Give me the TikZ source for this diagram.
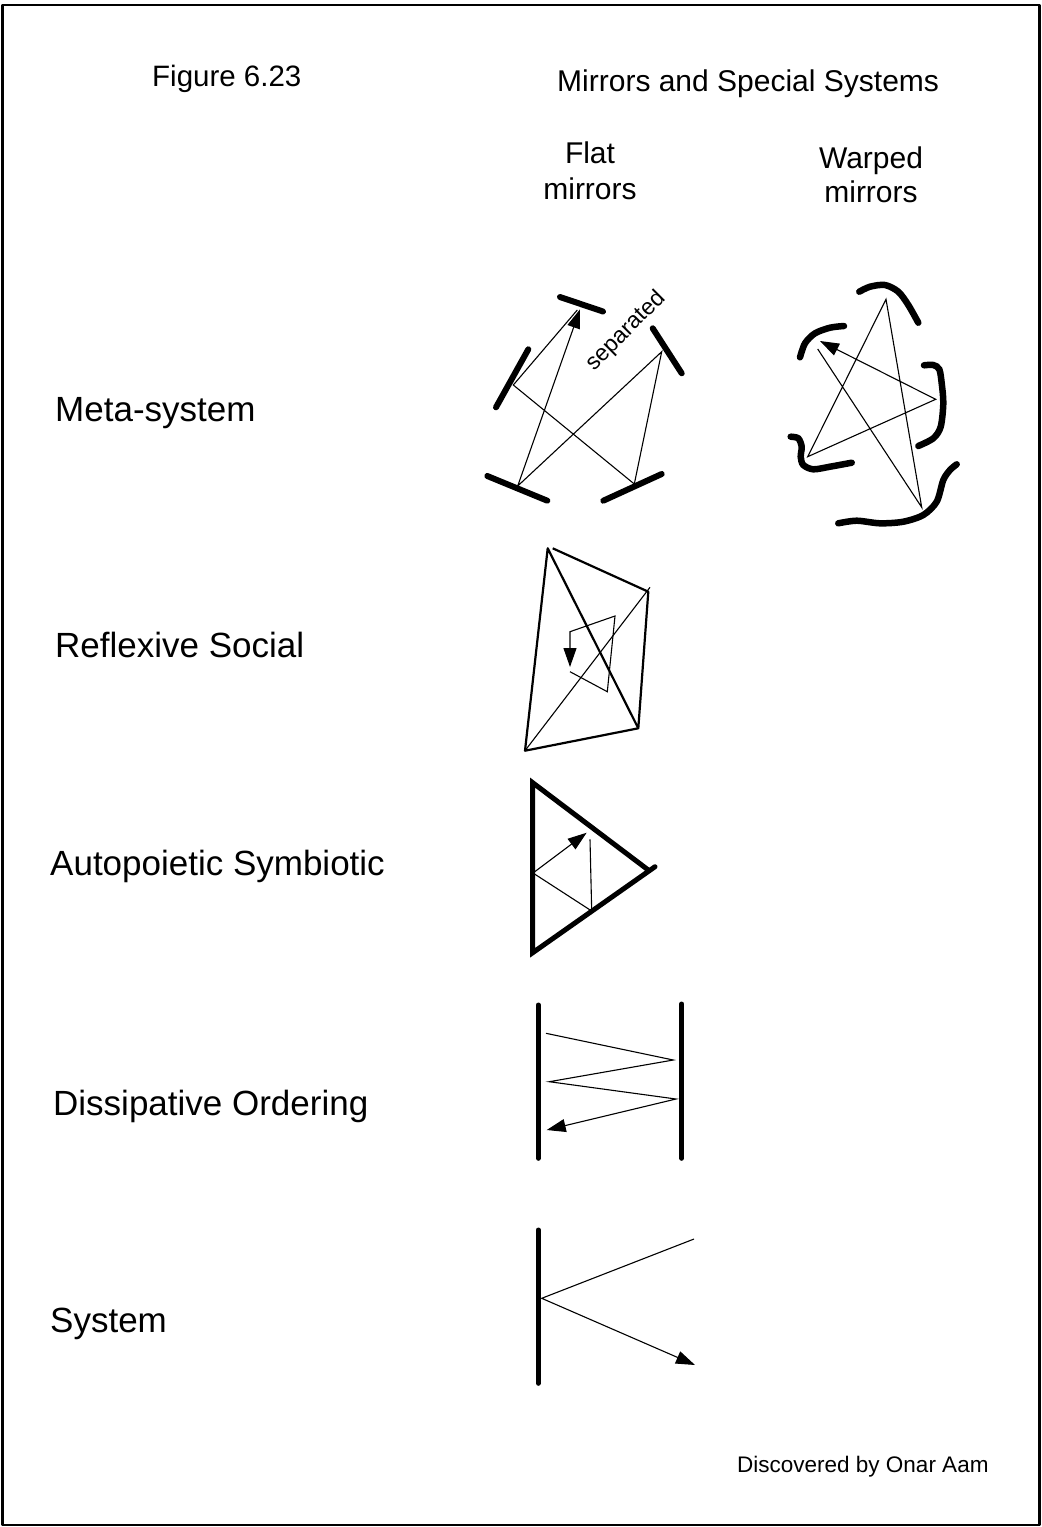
\documentclass[tikz,border=0pt]{standalone}
\usepackage{fontspec}
\setmainfont{Liberation Sans}
\usetikzlibrary{arrows.meta}
\begin{document}
\begin{tikzpicture}[x=1pt,y=-1pt,
  mirror/.style={line width=6pt,line cap=round},
  wmirror/.style={line width=6.5pt,line cap=round},
  heavy/.style={line width=5pt,line cap=round,line join=miter},
  frameline/.style={line width=2.2pt,line join=round},
  ray/.style={line width=1.1pt},
  beam/.style={line width=2.2pt,line join=round},
  tip/.style={-{Triangle[length=19pt,width=13pt]}},
  lbl/.style={anchor=base west,inner sep=0pt,font=\fontsize{35}{42}\selectfont},
  head/.style={anchor=base,inner sep=0pt,font=\fontsize{30}{35}\selectfont}]
\useasboundingbox (0,0) rectangle (1042,1527);
\fill[white] (0,0) rectangle (1042,1527);
\draw[frameline] (2.5,5) rectangle (1039.5,1525);

% headings
\node[anchor=base west,inner sep=0pt,font=\fontsize{29.5}{35}\selectfont] (fig) at (152,86) {Figure 6.23};
\node[anchor=base west,inner sep=0pt,font=\fontsize{30}{35}\selectfont] (title) at (557,91) {Mirrors and Special Systems};
\node[head] (flat1) at (590,163) {Flat};
\node[head] (flat2) at (590,199) {mirrors};
\node[head] (warp1) at (871,168) {Warped};
\node[head] (warp2) at (871,202) {mirrors};

% row labels
\node[lbl] (l1) at (55,421) {Meta-system};
\node[lbl] (l2) at (55,657) {Reflexive Social};
\node[lbl] (l3) at (50,875) {Autopoietic Symbiotic};
\node[lbl] (l4) at (53,1115) {Dissipative Ordering};
\node[lbl] (l5) at (50,1332) {System};
\node[anchor=base west,inner sep=0pt,font=\fontsize{22.5}{27}\selectfont] (credit) at (737,1472) {Discovered by Onar Aam};

% ---- meta-system, flat mirrors
\draw[mirror] (560,297) -- (603,311.5);
\draw[mirror] (528.3,349.3) -- (496,407.3);
\draw[mirror] (652.7,328.3) -- (681.7,373.3);
\draw[mirror] (487.3,476) -- (547.3,500.7);
\draw[mirror] (603.3,500.7) -- (661.7,474);
\coordinate (mt) at (577.3,310);
\coordinate (ml) at (513.3,385);
\coordinate (mbr) at (634.3,484);
\coordinate (mr) at (661.7,351.7);
\coordinate (mbl) at (517.7,486);
\coordinate (mend) at (580,309.3);
\draw[ray,tip] (mt) -- (ml) -- (mbr) -- (mr) -- (mbl) -- (mend);
\node[rotate=45,inner sep=0pt,font=\fontsize{23}{27}\selectfont] (sep) at (626,331) {separated};

% ---- meta-system, warped mirrors
\draw[wmirror] plot[smooth] coordinates {(859.3,291.7) (870,286.7) (885,285) (898.3,291.7) (908.3,305) (918.3,322.7)};
\draw[wmirror] plot[smooth] coordinates {(800,357.3) (805,343.3) (815,333.3) (830,327.7) (844,326)};
\draw[wmirror] plot[smooth] coordinates {(924,365.3) (933.3,365) (939.3,369.3) (941.7,383.3) (943.3,403.3) (940.7,426.7) (933.3,438.3) (918.3,446)};
\draw[wmirror] plot[smooth] coordinates {(790.7,436.7) (798.3,438.3) (801.7,446.7) (800.7,456.7) (803.3,465) (813.3,469.3) (830,466.7) (851.7,462.7)};
\draw[wmirror] plot[smooth] coordinates {(838.3,523.3) (856.7,520.7) (880,523.3) (903.3,521.7) (923.3,515) (936.7,501.7) (943.3,480) (950,470) (956.7,464.3)};
\coordinate (wlt) at (817.7,349);
\coordinate (wb) at (921.7,507.3);
\coordinate (wt) at (886,299.3);
\coordinate (wbl) at (807.7,456.7);
\coordinate (wr) at (935.7,399.3);
\coordinate (wend) at (820,341);
\draw[ray,tip] (wlt) -- (wb) -- (wt) -- (wbl) -- (wr) -- (wend);

% ---- reflexive social
\coordinate (ra) at (547.7,548.3);
\coordinate (ra2) at (552.7,548.3);
\coordinate (rb) at (648.3,591.7);
\coordinate (rc) at (638.3,728.3);
\coordinate (rd) at (525,750.7);
\coordinate (rx) at (650,587.3);
\draw[beam] (ra2) -- (rb) -- (rc) -- (rd) -- (ra) -- (rc);
\draw[ray] (rd) -- (rx);
\coordinate (r1) at (570,671.7);
\coordinate (r2) at (607.3,691.7);
\coordinate (r3) at (615,616);
\coordinate (r4) at (570,631.7);
\coordinate (r5) at (570,667);
\draw[ray,tip] (r1) -- (r2) -- (r3) -- (r4) -- (r5);

% ---- autopoietic symbiotic
\coordinate (at) at (532.7,782.7);
\coordinate (ab) at (532.7,952.7);
\coordinate (ar1) at (648.3,870);
\coordinate (ar2) at (655,866.7);
\draw[heavy] (ar1) -- (at) -- (ab) -- (ar2);
\coordinate (a1) at (590,839.3);
\coordinate (a2) at (591.7,911);
\coordinate (a3) at (533,873);
\coordinate (a4) at (586.7,832.7);
\draw[ray,tip] (a1) -- (a2) -- (a3) -- (a4);

% ---- dissipative ordering
\draw[heavy] (538.3,1005) -- (538.3,1158.3);
\draw[heavy] (681.7,1004) -- (681.7,1158.3);
\coordinate (d1) at (546,1033.3);
\coordinate (d2) at (673.3,1060);
\coordinate (d3) at (549.3,1081.7);
\coordinate (d4) at (676,1099);
\coordinate (d5) at (546.7,1130);
\draw[ray,tip] (d1) -- (d2) -- (d3) -- (d4) -- (d5);

% ---- system
\draw[heavy] (538.3,1230) -- (538.3,1383.3);
\coordinate (s1) at (694,1239);
\coordinate (s2) at (541.7,1298.3);
\coordinate (s3) at (695,1365);
\draw[ray,tip] (s1) -- (s2) -- (s3);
\end{tikzpicture}
\end{document}
